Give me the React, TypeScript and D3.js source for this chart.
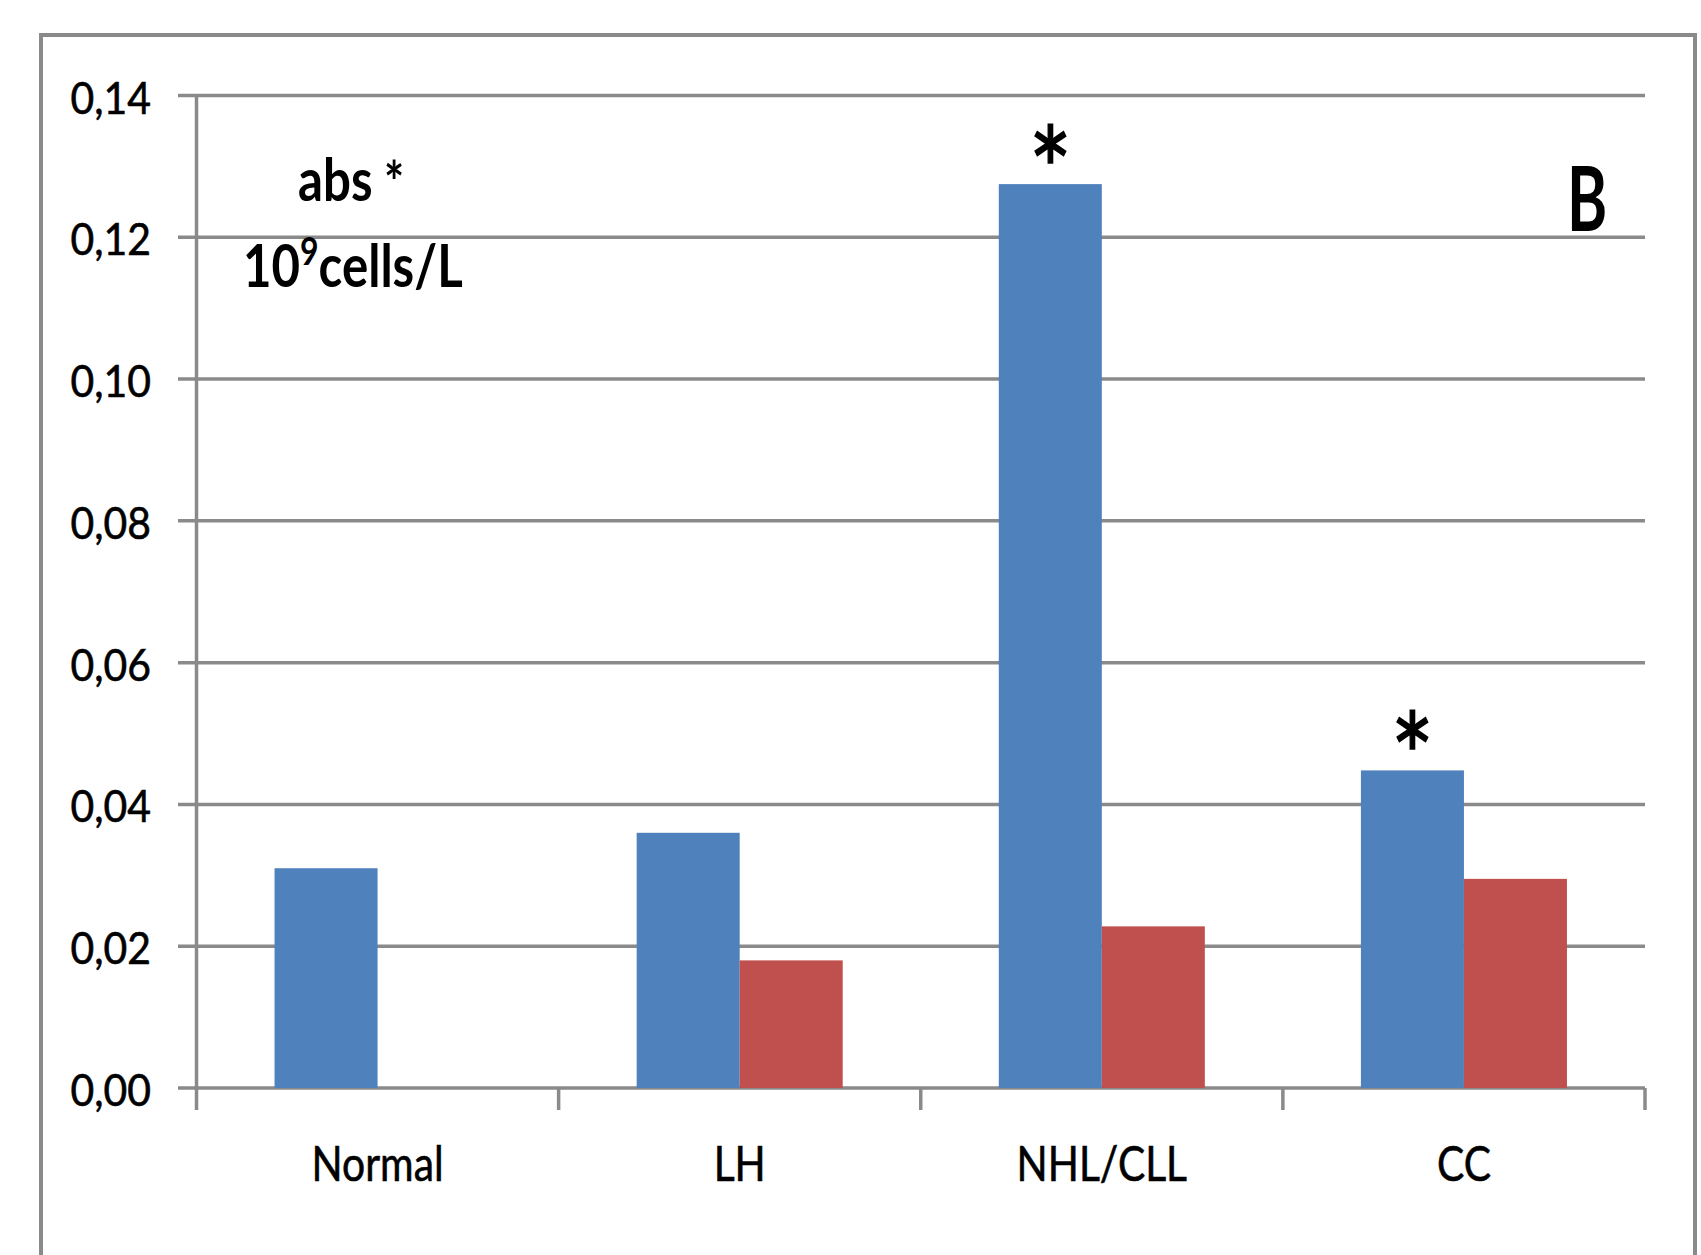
import React from "react";
import * as d3 from "d3";

// chart values
const categories = ["Normal", "LH", "NHL/CLL", "CC"];
const seriesNames = ["s1", "s2"];
const blueValues = [0.031, 0.036, 0.1275, 0.0448];
const redValues = [null, 0.018, 0.0228, 0.0295];
const starred = [false, false, true, true];
const yTicks = [0, 0.02, 0.04, 0.06, 0.08, 0.1, 0.12, 0.14];

const colors = { s1: "#4F81BD", s2: "#C0504D" };
const gridColor = "#8a8a8a";
const font = "Lato, 'Liberation Sans', sans-serif";

function App() {
  const width = 1701;
  const height = 1255;
  const left = 196.5;
  const right = 1645;
  const top = 95.5;
  const bottom = 1088;

  const y = d3.scaleLinear().domain([0, 0.14]).range([bottom, top]);
  const x0 = d3.scaleBand().domain(categories).range([left, right]).padding(0);
  const bw = x0.bandwidth();
  const x1 = d3
    .scaleBand()
    .domain(seriesNames)
    .range([bw * 0.2155, bw * (1 - 0.2155)])
    .padding(0);

  const fmt = (v) => d3.format(".2f")(v).replace(".", ",");

  return (
    <svg
      width={width}
      height={height}
      style={{ position: "absolute", left: 0, top: 0, display: "block", background: "#fff" }}
      fontFamily={font}
    >
      {/* outer frame */}
      <rect x={41} y={35} width={1654} height={1300} fill="none" stroke={gridColor} strokeWidth={4} />

      {/* gridlines + y labels */}
      {yTicks.map((t) => (
        <g key={t}>
          <line x1={178} x2={right} y1={y(t)} y2={y(t)} stroke={gridColor} strokeWidth={3.5} />
          <text
            transform={`translate(151,${y(t) + 18}) scale(0.93,1)`}
            textAnchor="end"
            fontSize={44}
            fill="#000"
            stroke="#000"
            strokeWidth={0.6}
          >
            {fmt(t)}
          </text>
        </g>
      ))}

      {/* y axis */}
      <line x1={left} x2={left} y1={top} y2={bottom + 22} stroke={gridColor} strokeWidth={3.5} />

      {/* category ticks */}
      {categories.map((c) => (
        <line
          key={c}
          x1={x0(c) + bw}
          x2={x0(c) + bw}
          y1={bottom}
          y2={bottom + 22}
          stroke={gridColor}
          strokeWidth={3.5}
        />
      ))}

      {/* bars */}
      {categories.map((c, i) => (
        <g key={c} transform={`translate(${x0(c)},0)`}>
          <rect
            x={x1("s1")}
            y={y(blueValues[i])}
            width={x1.bandwidth()}
            height={bottom - y(blueValues[i])}
            fill={colors.s1}
          />
          {redValues[i] != null && (
            <rect
              x={x1("s2")}
              y={y(redValues[i])}
              width={x1.bandwidth()}
              height={bottom - y(redValues[i])}
              fill={colors.s2}
            />
          )}
          {starred[i] && (
            <text
              transform={`translate(${x1("s1") + x1.bandwidth() / 2},${y(blueValues[i]) + 31}) scale(0.85,1)`}
              textAnchor="middle"
              fontSize={120}
              fill="#000"
              stroke="#000"
              strokeWidth={1.5}
            >
              *
            </text>
          )}
        </g>
      ))}

      {/* category labels */}
      {categories.map((c) => (
        <text
          key={c}
          transform={`translate(${x0(c) + bw / 2},1181) scale(0.85,1)`}
          textAnchor="middle"
          fontSize={48}
          fill="#000"
          stroke="#000"
          strokeWidth={0.6}
        >
          {c}
        </text>
      ))}

      {/* unit label */}
      <text transform="translate(298,201) scale(0.82,1)" fontSize={60} fontWeight="bold" fill="#000">
        abs
        <tspan fontSize={58} dx={14} dy={2}>
          *
        </tspan>
      </text>
      <text transform="translate(243,287) scale(0.82,1)" fontSize={60} fontWeight="bold" fill="#000">
        10
        <tspan fontSize={39} dy={-22}>
          9
        </tspan>
        <tspan dy={22}>cells/L</tspan>
      </text>

      {/* panel letter */}
      <text transform="translate(1567,231) scale(0.68,1)" fontSize={90} fontWeight="bold" fill="#000">
        B
      </text>
    </svg>
  );
}

export default App;
